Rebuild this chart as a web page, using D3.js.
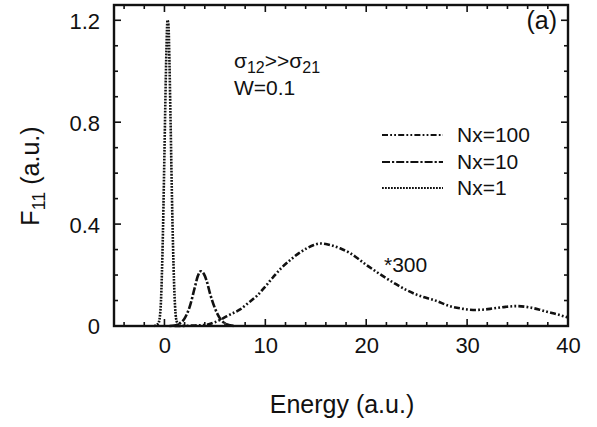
<!DOCTYPE html>
<html>
<head>
<meta charset="utf-8">
<script src="https://cdn.jsdelivr.net/npm/d3@7"></script>
<style>
  body { margin: 0; background: #fff; }
  text { font-family: "Liberation Sans", Arial, sans-serif; fill: #111; }
</style>
</head>
<body>
<script>
// values (Energy in a.u., F11 in a.u.)
var nx1Energy = [-1.0, -0.6, -0.4, -0.2, 0, 0.1, 0.2, 0.3, 0.4, 0.5, 0.6, 0.8, 1.0, 1.2, 1.5];
var nx1Value  = [0, 0.01, 0.06, 0.28, 0.68, 0.9, 1.09, 1.2, 1.18, 1.03, 0.82, 0.4, 0.12, 0.02, 0];

var nx10Energy = [0.5, 1.0, 1.5, 2.0, 2.5, 3.0, 3.3, 3.6, 3.9, 4.2, 4.5, 5.0, 5.5, 6.0, 6.5, 7.0];
var nx10Value  = [0, 0.002, 0.01, 0.03, 0.075, 0.15, 0.195, 0.215, 0.205, 0.175, 0.13, 0.07, 0.03, 0.01, 0.003, 0];

var nx100Energy = [1, 3, 4.2, 5, 5.8, 6.5, 7.5, 8.3, 9.2, 10, 10.8, 11.6, 12.5, 13.3, 14.1, 14.8, 15.4, 16.2,
                   17.4, 18.4, 19.2, 20, 21, 22, 23, 24, 25, 26, 26.7, 28.3, 29.5, 30.6, 31.5, 32.6, 33.8,
                   34.9, 36.2, 37.1, 37.9, 39, 40];
var nx100Value  = [0, 0.002, 0.005, 0.015, 0.03, 0.045, 0.065, 0.09, 0.12, 0.155, 0.193, 0.228, 0.26, 0.285,
                   0.305, 0.318, 0.324, 0.32, 0.305, 0.286, 0.264, 0.24, 0.213, 0.187, 0.163, 0.141, 0.123,
                   0.11, 0.102, 0.078, 0.068, 0.063, 0.064, 0.069, 0.075, 0.078, 0.073, 0.065, 0.056, 0.045, 0.033];

var seriesNames = ["Nx=100", "Nx=10", "Nx=1"];
var xTickLabels = [0, 10, 20, 30, 40];
var yTickLabels = [0, 0.4, 0.8, 1.2];

var width = 597, height = 427;
var pLeft = 114, pRight = 568, pTop = 5, pBottom = 326;   // plot frame (window.top is taken)

var svg = d3.select("body").append("svg")
    .attr("width", width)
    .attr("height", height);

var x = d3.scaleLinear().domain([-5, 40]).range([pLeft, pRight]);
var y = d3.scaleLinear().domain([0, 1.26]).range([pBottom, pTop]);

// dash styles per series
var dashes = {
    "Nx=100": "6,2.2,1.8,2.2,1.8,2.2",
    "Nx=10": "8,2,2.2,2",
    "Nx=1": "1.8,1.2"
};

var series = [
    { name: "Nx=100", e: nx100Energy, v: nx100Value },
    { name: "Nx=10", e: nx10Energy, v: nx10Value },
    { name: "Nx=1", e: nx1Energy, v: nx1Value }
];

var line = d3.line()
    .x(function(d) { return x(d[0]); })
    .y(function(d) { return y(d[1]); })
    .curve(d3.curveMonotoneX);

svg.selectAll(".curve")
    .data(series)
    .enter()
    .append("path")
    .attr("class", "curve")
    .attr("fill", "none")
    .attr("stroke", "#111")
    .attr("stroke-width", 2.6)
    .attr("stroke-dasharray", function(d) { return dashes[d.name]; })
    .attr("d", function(d) { return line(d.e.map(function(e, i) { return [e, d.v[i]]; })); });

// ticks on all four sides, pointing inward
var g = svg.append("g").attr("stroke", "#111").attr("stroke-width", 1.6);
var xMinor = d3.range(-4, 40.01, 2);
var yMinor = d3.range(0.1, 1.25, 0.1);

g.selectAll(".xt").data(xMinor).enter().append("line")
    .attr("x1", function(d) { return x(d); }).attr("x2", function(d) { return x(d); })
    .attr("y1", pBottom).attr("y2", function(d) { return pBottom - (d % 10 === 0 ? 7 : 4); });
g.selectAll(".xtt").data(xMinor).enter().append("line")
    .attr("x1", function(d) { return x(d); }).attr("x2", function(d) { return x(d); })
    .attr("y1", pTop).attr("y2", function(d) { return pTop + (d % 10 === 0 ? 7 : 4); });
g.selectAll(".yt").data(yMinor).enter().append("line")
    .attr("y1", function(d) { return y(d); }).attr("y2", function(d) { return y(d); })
    .attr("x1", pLeft).attr("x2", function(d) { return pLeft + (Math.round(d * 10) % 4 === 0 ? 7 : 4); });
g.selectAll(".ytr").data(yMinor).enter().append("line")
    .attr("y1", function(d) { return y(d); }).attr("y2", function(d) { return y(d); })
    .attr("x1", pRight).attr("x2", function(d) { return pRight - (Math.round(d * 10) % 4 === 0 ? 7 : 4); });

// frame
svg.append("rect")
    .attr("x", pLeft).attr("y", pTop)
    .attr("width", pRight - pLeft).attr("height", pBottom - pTop)
    .attr("fill", "none").attr("stroke", "#111").attr("stroke-width", 2.4);

// tick labels via axes
var xAxis = svg.append("g")
    .attr("transform", "translate(0," + pBottom + ")")
    .call(d3.axisBottom(x).tickValues(xTickLabels).tickSize(0).tickPadding(0));
xAxis.select(".domain").remove();
xAxis.selectAll("text")
    .attr("y", 27).attr("dy", 0)
    .style("font-size", "22px").style("font-family", "Liberation Sans, Arial, sans-serif").attr("fill", "#111");

var yAxis = svg.append("g")
    .attr("transform", "translate(" + pLeft + ",0)")
    .call(d3.axisLeft(y).tickValues(yTickLabels).tickSize(0).tickPadding(0)
        .tickFormat(function(d) { return d === 0 ? "0" : d3.format(".1f")(d); }));
yAxis.select(".domain").remove();
yAxis.selectAll("text")
    .attr("x", -14).attr("dy", "0.36em")
    .style("font-size", "22px").style("font-family", "Liberation Sans, Arial, sans-serif").attr("fill", "#111");

// axis titles
svg.append("text")
    .attr("x", 342).attr("y", 413)
    .attr("text-anchor", "middle")
    .style("font-size", "25px")
    .text("Energy (a.u.)");

var yl = svg.append("text")
    .attr("transform", "translate(39,176) rotate(-90)")
    .attr("text-anchor", "middle")
    .style("font-size", "25px");
yl.append("tspan").text("F");
yl.append("tspan").attr("dy", 6).style("font-size", "18px").text("11");
yl.append("tspan").attr("dy", -6).text(" (a.u.)");

// panel label and annotations
svg.append("text").attr("x", 557).attr("y", 29).attr("text-anchor", "end")
    .style("font-size", "25px").text("(a)");

var sig = svg.append("text").attr("x", 234).attr("y", 68).style("font-size", "21px");
sig.append("tspan").text("σ");
sig.append("tspan").attr("dy", 5).style("font-size", "16px").text("12");
sig.append("tspan").attr("dy", -5).text(">>σ");
sig.append("tspan").attr("dy", 5).style("font-size", "16px").text("21");

svg.append("text").attr("x", 234).attr("y", 95).style("font-size", "21px").text("W=0.1");
svg.append("text").attr("x", 384).attr("y", 272).style("font-size", "21px").text("*300");

// legend
var legY = [135, 162, 188];
var leg = svg.selectAll(".leg")
    .data(seriesNames)
    .enter()
    .append("g")
    .attr("class", "leg")
    .attr("transform", function(d, i) { return "translate(0," + legY[i] + ")"; });
leg.append("line")
    .attr("x1", 382).attr("x2", 443)
    .attr("stroke", "#111").attr("stroke-width", 2.2)
    .attr("stroke-dasharray", function(d) { return dashes[d]; });
leg.append("text")
    .attr("x", 457).attr("y", 7)
    .style("font-size", "21px")
    .text(function(d) { return d; });
</script>
</body>
</html>
